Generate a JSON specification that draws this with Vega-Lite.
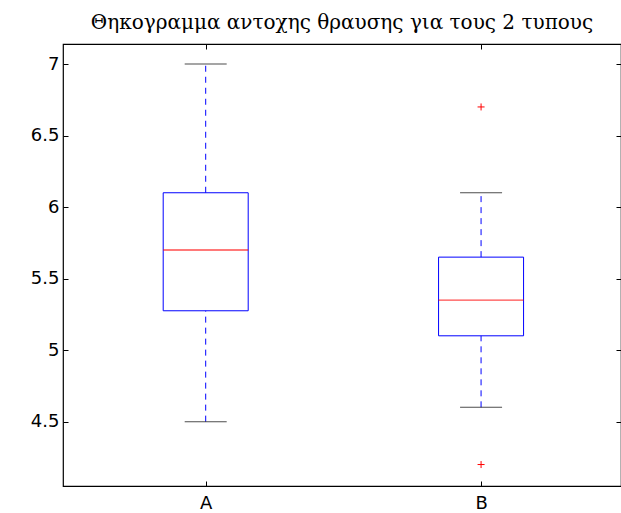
{
  "$schema": "https://vega.github.io/schema/vega-lite/v6.json",
  "autosize": "none",
  "width": 558,
  "height": 442,
  "padding": {"left": 63, "top": 44, "right": 0, "bottom": 27},
  "title": {"text": "Θηκογραμμα αντοχης θραυσης για τους 2 τυπους", "font": "DejaVu Serif", "fontSize": 20, "fontWeight": "normal", "color": "black", "offset": 11, "anchor": "middle"},
  "datasets": {
    "boxes": [
      {"type": "A", "pos": 1, "lo": 4.5, "q1": 5.275, "med": 5.7, "q3": 6.1, "hi": 7.0},
      {"type": "B", "pos": 2, "lo": 4.6, "q1": 5.1, "med": 5.35, "q3": 5.65, "hi": 6.1}
    ],
    "outliers": [
      {"type": "B", "pos": 2, "value": 6.7},
      {"type": "B", "pos": 2, "value": 4.2}
    ]
  },
  "config": {
    "view": {"stroke": "black", "strokeWidth": 1.2},
    "axis": {
      "labelFont": "DejaVu Sans", "labelFontSize": 18, "labelColor": "black",
      "domain": false, "tickColor": "black", "tickSize": 5, "tickWidth": 1, "offset": -5, "grid": false, "title": null
    }
  },
  "resolve": {"axis": {"x": "independent", "y": "independent"}},
  "layer": [
    {
      "data": {"name": "boxes"},
      "mark": {"type": "rule", "color": "#0000ff", "strokeDash": [6, 5], "strokeWidth": 1},
      "encoding": {
        "x": {"field": "pos", "type": "quantitative", "scale": {"domain": [0.5, 2.49], "nice": false, "zero": false}, "axis": {"orient": "top", "values": [1, 2], "labels": false}},
        "y": {"field": "q3", "type": "quantitative", "scale": {"domain": [4.05, 7.14], "nice": false, "zero": false}, "axis": {"orient": "right", "values": [4.5, 5, 5.5, 6, 6.5, 7], "labels": false}},
        "y2": {"field": "hi"}
      }
    },
    {
      "data": {"name": "boxes"},
      "mark": {"type": "rule", "color": "#0000ff", "strokeDash": [6, 5], "strokeWidth": 1},
      "encoding": {
        "x": {"field": "pos", "type": "quantitative", "axis": null},
        "y": {"field": "lo", "type": "quantitative", "axis": null},
        "y2": {"field": "q1"}
      }
    },
    {
      "data": {"name": "boxes"},
      "mark": {"type": "tick", "orient": "horizontal", "color": "black", "size": 42, "thickness": 1},
      "encoding": {
        "x": {"field": "pos", "type": "quantitative", "axis": null},
        "y": {"field": "hi", "type": "quantitative", "axis": null}
      }
    },
    {
      "data": {"name": "boxes"},
      "mark": {"type": "tick", "orient": "horizontal", "color": "black", "size": 42, "thickness": 1},
      "encoding": {
        "x": {"field": "pos", "type": "quantitative", "axis": null},
        "y": {"field": "lo", "type": "quantitative", "axis": null}
      }
    },
    {
      "data": {"name": "boxes"},
      "mark": {"type": "bar", "size": 85, "fill": "white", "fillOpacity": 0, "stroke": "#0000ff", "strokeWidth": 1},
      "encoding": {
        "x": {"field": "pos", "type": "quantitative", "axis": {"orient": "bottom", "values": [1, 2], "labelExpr": "datum.value == 1 ? 'A' : 'B'", "labelPadding": 8}},
        "y": {"field": "q1", "type": "quantitative", "axis": {"orient": "left", "values": [4.5, 5, 5.5, 6, 6.5, 7], "format": "~g", "labelPadding": 4}},
        "y2": {"field": "q3"}
      }
    },
    {
      "data": {"name": "boxes"},
      "mark": {"type": "tick", "orient": "horizontal", "color": "#ff0000", "size": 85, "thickness": 1.3},
      "encoding": {
        "x": {"field": "pos", "type": "quantitative", "axis": null},
        "y": {"field": "med", "type": "quantitative", "axis": null}
      }
    },
    {
      "data": {"name": "outliers"},
      "mark": {"type": "point", "shape": "M-1,0L1,0M0,-1L0,1", "filled": false, "stroke": "#ff0000", "strokeWidth": 1, "size": 49, "opacity": 1},
      "encoding": {
        "x": {"field": "pos", "type": "quantitative", "axis": null},
        "y": {"field": "value", "type": "quantitative", "axis": null}
      }
    }
  ]
}
